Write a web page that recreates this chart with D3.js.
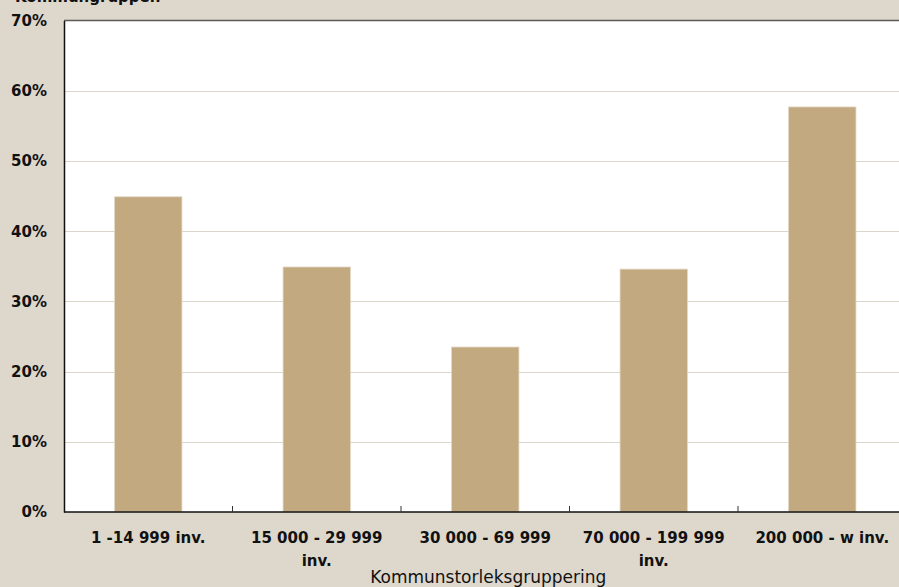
<!DOCTYPE html>
<html>
<head>
<meta charset="utf-8">
<script src="https://cdn.jsdelivr.net/npm/d3@7"></script>
<style>
  html, body { margin: 0; padding: 0; background: #ddd7cc; overflow: hidden; }
  svg { display: block; }
  text { font-family: "DejaVu Sans", sans-serif; fill: #111; }
</style>
</head>
<body>
<svg id="chart" width="899" height="587"></svg>
<script>
const categories = ["1 -14 999 inv.", "15 000 - 29 999 inv.", "30 000 - 69 999", "70 000 - 199 999 inv.", "200 000 - w inv."];
const values = [0.449, 0.349, 0.235, 0.346, 0.577];
const yTicks = [0, 0.1, 0.2, 0.3, 0.4, 0.5, 0.6, 0.7];
const topTitle = "Kommungruppen";
const xTitle = "Kommunstorleksgruppering";

const W = 899, H = 587;
const m = { left: 64, top: 20.6, right: 906.5, bottom: 512 };

const svg = d3.select("#chart");

const x = d3.scaleBand().domain(categories).range([m.left, m.right]).paddingInner(0.6).paddingOuter(0.3);
const y = d3.scaleLinear().domain([0, 0.7]).range([m.bottom, m.top]);
const step = x.step();

// plot background
svg.append("rect").attr("x", m.left).attr("y", m.top)
  .attr("width", m.right - m.left).attr("height", m.bottom - m.top).attr("fill", "#ffffff");

// gridlines
svg.append("g").selectAll("line").data(yTicks.filter(d => d > 0 && d < 0.7)).join("line")
  .attr("x1", m.left).attr("x2", m.right)
  .attr("y1", d => Math.round(y(d)) + 0.5).attr("y2", d => Math.round(y(d)) + 0.5)
  .attr("stroke", "#dcd5c9").attr("stroke-width", 1.2);

// bars
svg.append("g").selectAll("rect").data(values).join("rect")
  .attr("x", (d, i) => x(categories[i]))
  .attr("y", d => y(d))
  .attr("width", x.bandwidth())
  .attr("height", d => y(0) - y(d))
  .attr("fill", "#c2a980")
  .attr("stroke", "#e2d8c6").attr("stroke-width", 0.8);

// top border
svg.append("line").attr("x1", m.left).attr("x2", W + 10)
  .attr("y1", Math.round(m.top) - 0.5).attr("y2", Math.round(m.top) - 0.5)
  .attr("stroke", "#5a5a56").attr("stroke-width", 1.5);

// y axis
const yAxis = d3.axisLeft(y).tickValues(yTicks).tickFormat(d3.format(".0%")).tickSize(0).tickPadding(17);
const gy = svg.append("g").attr("transform", `translate(${m.left},0)`).call(yAxis);
gy.select(".domain").attr("stroke", "#111").attr("stroke-width", 1.5);
gy.selectAll("text").style("font-size", "15px").style("font-weight", "bold").attr("fill", "#111");

// x axis
const gx = svg.append("g").attr("transform", `translate(0,${m.bottom})`);
gx.append("line").attr("x1", m.left).attr("x2", W + 10).attr("y1", 0).attr("y2", 0)
  .attr("stroke", "#111").attr("stroke-width", 1.6);
gx.selectAll("line.tick").data(categories).join("line").attr("class", "tick")
  .attr("x1", d => x(d) + x.bandwidth() + (step - x.bandwidth()) / 2)
  .attr("x2", d => x(d) + x.bandwidth() + (step - x.bandwidth()) / 2)
  .attr("y1", 0).attr("y2", -6).attr("stroke", "#333").attr("stroke-width", 1);

// category labels with wrapping
const maxW = 150;
categories.forEach(c => {
  const t = gx.append("text").attr("x", x(c) + x.bandwidth() / 2).attr("y", 31)
    .attr("text-anchor", "middle").style("font-size", "15px").style("font-weight", "bold");
  const words = c.split(" ");
  let line = [], lineNo = 0;
  let ts = t.append("tspan").attr("x", x(c) + x.bandwidth() / 2).attr("dy", 0);
  words.forEach(w => {
    line.push(w);
    ts.text(line.join(" "));
    if (ts.node().getComputedTextLength() > maxW && line.length > 1) {
      line.pop();
      ts.text(line.join(" "));
      line = [w];
      lineNo++;
      ts = t.append("tspan").attr("x", x(c) + x.bandwidth() / 2).attr("dy", 22.5).text(w);
    }
  });
});

// x title
svg.append("text").attr("x", (m.left + m.right) / 2 + 3).attr("y", 583)
  .attr("text-anchor", "middle").style("font-size", "17px").text(xTitle);

// top title (cut off)
svg.append("text").attr("x", 15).attr("y", 2)
  .style("font-size", "15px").style("font-weight", "bold").text(topTitle);
</script>
</body>
</html>
